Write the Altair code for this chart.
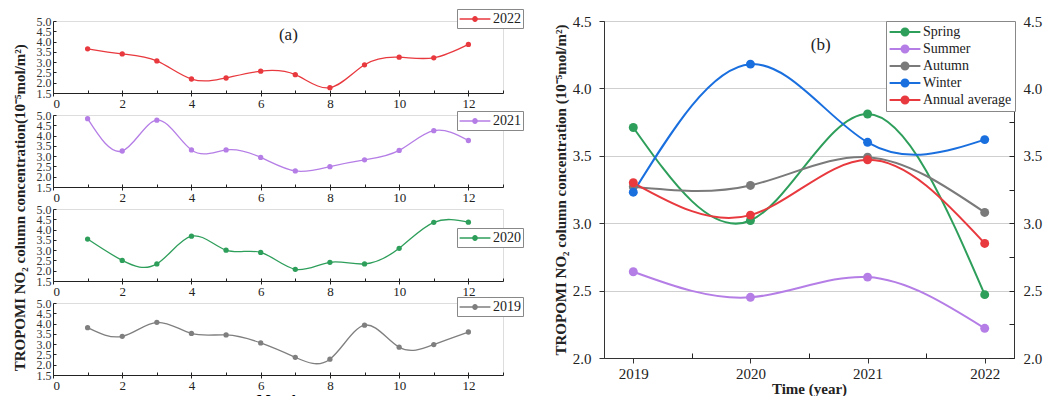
import altair as alt
import pandas as pd

FONT = "Liberation Serif"

# ---------------- data (a) ----------------
months = list(range(1, 13))
v2022 = [3.65, 3.40, 3.06, 2.18, 2.23, 2.56, 2.39, 1.76, 2.87, 3.24, 3.21, 3.86]
v2021 = [4.82, 3.25, 4.75, 3.30, 3.30, 2.94, 2.28, 2.49, 2.82, 3.28, 4.24, 3.76]
v2020 = [3.54, 2.50, 2.33, 3.68, 3.00, 2.89, 2.07, 2.41, 2.33, 3.09, 4.35, 4.36]
v2019 = [3.80, 3.38, 4.06, 3.52, 3.45, 3.06, 2.36, 2.27, 3.92, 2.85, 2.98, 3.59]
left_series = ["2022", "2021", "2020", "2019"]
left_colors = ["#e8393e", "#b57ee6", "#2e9e5b", "#7f7f7f"]
left_values = [v2022, v2021, v2020, v2019]
left_legend_y = [-12, -4, 19, -6]
left_yticks = [1.5, 2.0, 2.5, 3.0, 3.5, 4.0, 4.5, 5.0]
left_xticks = [0, 2, 4, 6, 8, 10, 12]
left_minor_x = list(range(0, 14))

# ---------------- data (b) ----------------
years = [2019, 2020, 2021, 2022]
seasons = ["Spring", "Summer", "Autumn", "Winter", "Annual average"]
spring = [3.71, 3.02, 3.81, 2.47]
summer = [2.64, 2.45, 2.60, 2.22]
autumn = [3.27, 3.28, 3.49, 3.08]
winter = [3.23, 4.18, 3.60, 3.62]
annual = [3.30, 3.06, 3.47, 2.85]
season_colors = ["#2e9e5b", "#b57ee6", "#7a7a7a", "#1a6fdf", "#e8393e"]
right_yticks = [2.0, 2.5, 3.0, 3.5, 4.0, 4.5]
right_minor_y = [2.0, 2.25, 2.5, 2.75, 3.0, 3.25, 3.5, 3.75, 4.0, 4.25, 4.5]
right_minor_x = [2019.5, 2020.5, 2021.5]


# line-with-dot legend glyph (unit coordinates, scaled by sqrt(size)/2)
def glyph(half, rad):
    return (f"M-{half},0H{half}M{rad},0A{rad},{rad},0,1,1,-{rad},0"
            f"A{rad},{rad},0,1,1,{rad},0")


SYM_L = glyph(2.2, 0.32)
SYM_R = glyph(2.2, 0.5)

W_L, H_L = 450, 72
W_R, H_R = 410, 337


def tick_axis(values, orient, offset, size):
    return alt.Axis(
        values=values, orient=orient, offset=offset, labels=False, domain=False,
        grid=False, title=None, tickSize=size, tickColor="#222",
    )


def left_panel(i):
    name = left_series[i]
    df = pd.DataFrame({"Month": months, "v": left_values[i], "s": name})
    last = i == 3
    xscale = alt.Scale(domain=[0, 13], nice=False)
    yscale = alt.Scale(domain=[1.5, 5.0], nice=False, zero=False)
    x = alt.X(
        "Month:Q", scale=xscale,
        axis=alt.Axis(
            orient="bottom",
            values=left_xticks, title="Month" if last else None, grid=False,
            labelFont=FONT, labelFontSize=13, labelColor="#222", tickSize=3,
            domainColor="#222", tickColor="#222", labelPadding=1,
            titleFont=FONT, titleFontSize=15, titleFontWeight="bold", titlePadding=0,
        ),
    )
    y = alt.Y(
        "v:Q", scale=yscale,
        axis=alt.Axis(
            orient="left",
            values=left_yticks, format=".1f", title=None, grid=False, ticks=False,
            labelFont=FONT, labelFontSize=12, labelColor="#333",
            labelPadding=2, labelOverlap=False, domainColor="#222",
            labelBound=False, labelFlush=False,
        ),
    )
    color = alt.Color(
        "s:N",
        scale=alt.Scale(domain=[name], range=[left_colors[i]]),
        legend=alt.Legend(
            title=None, orient="none", legendX=404, legendY=left_legend_y[i],
            symbolType=SYM_L, symbolSize=196, symbolStrokeWidth=1.3, symbolOffset=8,
            labelFont=FONT, labelFontSize=14, labelColor="#222",
            strokeColor="#888", fillColor="white", padding=2,
            labelOffset=10,
        ),
    )
    base = alt.Chart(df)
    line = base.mark_line(interpolate="natural", strokeWidth=1.3).encode(x=x, y=y, color=color)
    pts = base.mark_point(filled=True, size=28, opacity=1).encode(x=x, y=y, color=color)
    layers = [line, pts]
    if i == 0:
        lab = pd.DataFrame({"Month": [6.8], "v": [4.3], "t": ["(a)"]})
        layers.append(
            alt.Chart(lab).mark_text(font=FONT, fontSize=17, color="#222").encode(
                x=x, y=y, text="t:N"
            )
        )
    main = alt.layer(*layers)
    ticks = base.mark_point(opacity=0).encode(
        x=alt.X("Month:Q", scale=xscale, axis=tick_axis(left_minor_x, "top", -H_L, 3)),
        y=alt.Y("v:Q", scale=yscale, axis=tick_axis(left_yticks, "right", -W_L, 3)),
    )
    return alt.layer(main, ticks).resolve_scale(x="independent", y="independent").properties(
        width=W_L, height=H_L
    )


left = alt.vconcat(
    *[left_panel(i) for i in range(4)], spacing=22, bounds="flush",
    title=alt.Title(
        "TROPOMI NO₂ column concentration(10⁻⁵mol/m²)", orient="left", anchor="middle",
        font=FONT, fontSize=15, fontWeight="bold", color="#222", offset=8,
    ),
).resolve_scale(color="independent").resolve_legend(color="independent")

# ---------------- right panel ----------------
rows = []
for s, vals in zip(seasons, [spring, summer, autumn, winter, annual]):
    for yr, v in zip(years, vals):
        rows.append({"Year": yr, "v": v, "Season": s})
rdf = pd.DataFrame(rows)

xscale_r = alt.Scale(domain=[2018.75, 2022.25], nice=False, zero=False)
xr = alt.X(
    "Year:Q", scale=xscale_r,
    axis=alt.Axis(
        orient="bottom",
        values=years, format="d", title="Time (year)", grid=False,
        labelFont=FONT, labelFontSize=15, labelColor="#222", tickSize=5,
        titleFont=FONT, titleFontSize=15, titleFontWeight="bold", titleColor="#222",
        domainColor="#333", tickColor="#333", titlePadding=0, labelPadding=3,
    ),
)
yr_axis = alt.Axis(
    orient="left",
    values=right_yticks, format=".1f", grid=True, gridColor="#cfcfcf",
    title="TROPOMI NO₂ column concentration (10⁻⁵mol/m²)",
    labelFont=FONT, labelFontSize=15, labelColor="#222", tickSize=5, labelPadding=8,
    titleFont=FONT, titleFontSize=15, titleFontWeight="bold", titleColor="#222",
    domainColor="#333", tickColor="#333", titlePadding=4,
)
yscale = alt.Scale(domain=[2.0, 4.5], nice=False, zero=False)
yr = alt.Y("v:Q", scale=yscale, axis=yr_axis)
cr = alt.Color(
    "Season:N",
    scale=alt.Scale(domain=seasons, range=season_colors),
    sort=seasons,
    legend=alt.Legend(
        title=None, orient="none", legendX=282, legendY=0,
        symbolType=SYM_R, symbolSize=196, symbolStrokeWidth=2, symbolOffset=8,
        labelFont=FONT, labelFontSize=14, labelColor="#222",
        strokeColor="#888", fillColor="white", padding=3, rowPadding=1,
        labelOffset=10,
    ),
)
rbase = alt.Chart(rdf)
rline = rbase.mark_line(interpolate="natural", strokeWidth=2).encode(x=xr, y=yr, color=cr)
rpts = rbase.mark_point(filled=True, size=80, opacity=1).encode(x=xr, y=yr, color=cr)
blab = pd.DataFrame({"Year": [2020.6], "v": [4.32], "t": ["(b)"]})
btxt = alt.Chart(blab).mark_text(font=FONT, fontSize=17, color="#222").encode(
    x=xr, y=yr, text="t:N",
)
right_axis = rbase.mark_point(opacity=0).encode(
    x=alt.X("Year:Q", scale=xscale_r, axis=None),
    y=alt.Y(
        "v:Q", scale=yscale,
        axis=alt.Axis(
            orient="right", values=right_yticks, format=".1f", grid=False, title=None,
            labelFont=FONT, labelFontSize=15, labelColor="#222", ticks=False, labelPadding=9,
            domainColor="#333",
        ),
    ),
)
inner_ticks = rbase.mark_point(opacity=0).encode(
    x=alt.X("Year:Q", scale=xscale_r, axis=tick_axis(right_minor_x, "top", -H_R, 5)),
    y=alt.Y("v:Q", scale=yscale, axis=tick_axis(right_minor_y, "left", -W_R, 5)),
)
main = alt.layer(rline, rpts, btxt)
right = alt.layer(main, right_axis, inner_ticks).resolve_scale(
    x="independent", y="independent"
).properties(
    width=W_R, height=H_R, view=alt.ViewBackground(stroke="#333", strokeWidth=1)
)

chart = alt.hconcat(left, right, spacing=28).resolve_scale(
    color="independent"
).resolve_legend(color="independent").properties(
    padding={"left": 4, "top": 0, "right": 0, "bottom": 0}
).configure_view(strokeWidth=0).configure(background="white")

chart.save("out.html", embed_options={"renderer": "svg", "actions": False})
